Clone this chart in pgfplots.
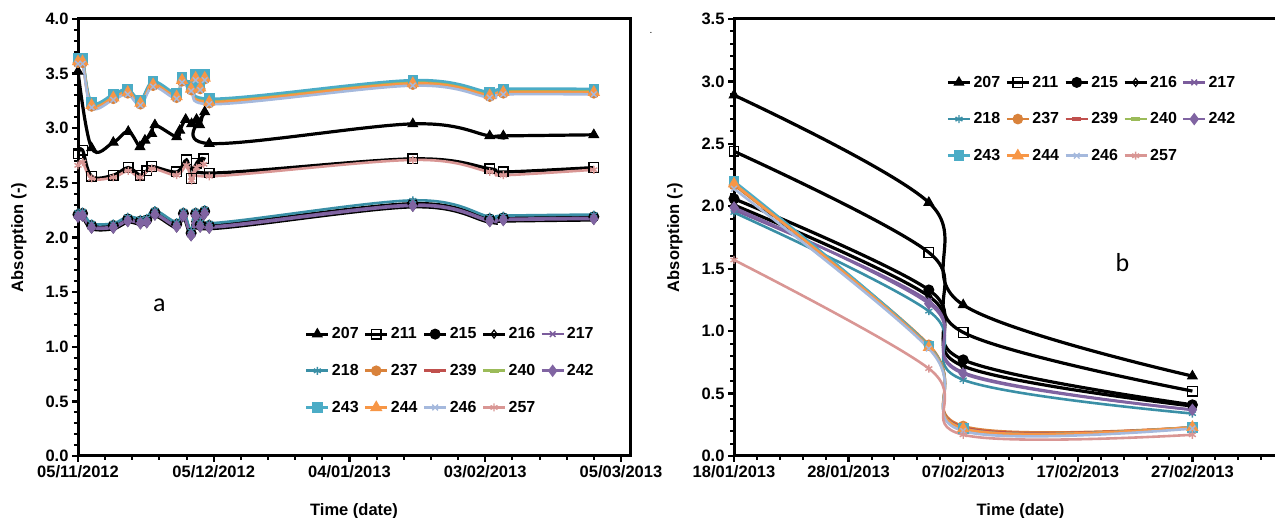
\documentclass[border=0pt]{standalone}
\usepackage{pgfplots}
\pgfplotsset{compat=1.18}
\usepackage{fontspec}
\setmainfont{Liberation Sans}
\newfontfamily\carlito{Carlito}
\definecolor{c217}{HTML}{7B5C9C}
\definecolor{c218}{HTML}{3A8FA6}
\definecolor{c237}{HTML}{D9823B}
\definecolor{c239}{HTML}{C0504D}
\definecolor{c240}{HTML}{9BBB59}
\definecolor{c242}{HTML}{8064A2}
\definecolor{c243}{HTML}{4BACC6}
\definecolor{c244}{HTML}{F79646}
\definecolor{c246}{HTML}{A5B9DD}
\definecolor{c257}{HTML}{D99694}
\pgfplotsset{
  myaxis/.style={
    scale only axis, height=437pt, ymin=0,
    tick align=outside, xtick pos=bottom, ytick pos=left,
    axis line style={line width=3pt},
    major tick length=6pt, minor tick length=4pt,
    every major tick/.append style={line width=2.4pt,black},
    every minor tick/.append style={line width=2pt,black},
    tick label style={font=\fontsize{16.5}{19}\selectfont\bfseries},
    label style={font=\fontsize{16.5}{19}\selectfont\bfseries},
    xlabel style={yshift=-19pt},
    ylabel style={yshift=12pt},
    /pgf/number format/assume math mode=true,
    yticklabel style={/pgf/number format/.cd, fixed, fixed zerofill, precision=1},
    minor y tick num=4,
    legend columns=5,
    legend cell align=left,
    legend style={draw=none, fill=none, font=\fontsize{16}{19}\selectfont\bfseries,
      /tikz/every even column/.append style={column sep=3pt}, /tikz/row sep=20pt},
    legend image code/.code={\draw[mark repeat=2,mark phase=2] plot coordinates {(0pt,0pt)(11pt,0pt)(22pt,0pt)};},
    every axis plot/.append style={smooth, tension=0.6},
  },
  s207/.style={black, line width=3.2pt, mark=triangle*, mark size=5.5pt, mark options={solid,line width=1pt}},
  s211/.style={black, line width=3.2pt, mark=square, mark size=4.8pt, mark options={solid,fill=white,line width=1.3pt}},
  s215/.style={black, line width=3.2pt, mark=*, mark size=5pt, mark options={solid,line width=1pt}},
  s216/.style={black, line width=3.2pt, mark=diamond, mark size=4pt, mark options={solid,fill=white,line width=1.2pt}},
  s217/.style={c217, line width=2.6pt, mark=x, mark size=4pt, mark options={solid,line width=1.4pt}},
  s218/.style={c218, line width=2.6pt, mark=asterisk, mark size=4pt, mark options={solid,line width=1.4pt}},
  s237/.style={c237, line width=2.6pt, mark=*, mark size=4pt, mark options={solid}},
  s239/.style={c239, line width=2.6pt, mark=-, mark size=4.5pt, mark options={solid,line width=3.6pt}},
  s240/.style={c240, line width=2.6pt, mark=-, mark size=4.5pt, mark options={solid,line width=3.6pt}},
  s242/.style={c242, line width=2.6pt, mark=diamond*, mark size=4.2pt, mark options={solid}},
  s243/.style={c243, line width=2.6pt, mark=square*, mark size=4pt, mark options={solid}},
  s244/.style={c244, line width=2.6pt, mark=triangle*, mark size=4.6pt, mark options={solid}},
  s246/.style={c246, line width=2.6pt, mark=x, mark size=4pt, mark options={solid,line width=1.4pt}},
  s257/.style={c257, line width=2.6pt, mark=asterisk, mark size=4pt, mark options={solid,line width=1.4pt}},
}
\begin{document}
\begin{tikzpicture}
\useasboundingbox (0,0) rectangle (1275pt,518pt);
% ---------------- panel a ----------------
\begin{axis}[myaxis, at={(78pt,62pt)}, anchor=south west, width=552pt,
  xmin=0, xmax=122, ymax=4, ytick={0,0.5,1,1.5,2,2.5,3,3.5,4},
  xtick={0,30,60,90,120},
  xticklabels={05/11/2012,05/12/2012,04/01/2013,03/02/2013,05/03/2013},
  minor x tick num=4,
  xlabel={Time (date)}, ylabel={Absorption (-)},
  legend style={at={(axis description cs:0.405,0.303)}, anchor=north west}]
\addplot[s207] coordinates {(0,3.52)(3,2.82)(7.8,2.87)(11.1,2.97)(13.7,2.83)(14.8,2.89)(16.3,2.95)(17,3.03)(21.8,2.92)(22.5,2.98)(23.8,3.08)(25.1,3.04)(26.2,3.08)(26.9,3.03)(28,3.15)(29,2.86)(74,3.04)(91,2.93)(94,2.93)(114,2.94)};
\addplot[s211] coordinates {(0,2.77)(1,2.80)(3,2.56)(7.8,2.57)(11.1,2.64)(13.7,2.57)(15.2,2.61)(16.3,2.65)(21.8,2.60)(24,2.71)(25.1,2.54)(26.2,2.68)(27.8,2.72)(29,2.59)(74,2.72)(91,2.63)(94,2.60)(114,2.64)};
\addplot[s215] coordinates {(0,2.21)(1,2.22)(3,2.11)(7.8,2.11)(11,2.17)(13.8,2.15)(15.2,2.16)(17,2.23)(21.8,2.12)(23.3,2.22)(25,2.04)(26,2.22)(27,2.12)(28,2.24)(29,2.11)(74,2.31)(91,2.17)(94,2.18)(114,2.19)};
\addplot[s216] coordinates {(0,2.18)(1,2.19)(3,2.08)(7.8,2.08)(11,2.14)(13.8,2.12)(15.2,2.13)(17,2.20)(21.8,2.09)(23.3,2.19)(25,2.01)(26,2.19)(27,2.09)(28,2.21)(29,2.08)(74,2.28)(91,2.14)(94,2.15)(114,2.16)};
\addplot[s217] coordinates {(0,2.20)(1,2.21)(3,2.10)(7.8,2.10)(11,2.16)(13.8,2.14)(15.2,2.15)(17,2.22)(21.8,2.11)(23.3,2.21)(25,2.03)(26,2.21)(27,2.11)(28,2.23)(29,2.10)(74,2.30)(91,2.16)(94,2.17)(114,2.18)};
\addplot[s218] coordinates {(0,2.23)(1,2.24)(3,2.13)(7.8,2.13)(11,2.19)(13.8,2.17)(15.2,2.18)(17,2.25)(21.8,2.14)(23.3,2.24)(25,2.06)(26,2.24)(27,2.14)(28,2.26)(29,2.13)(74,2.34)(91,2.19)(94,2.20)(114,2.21)};
\addplot[s237] coordinates {(0,3.60)(1,3.60)(3,3.20)(7.8,3.27)(11,3.32)(13.8,3.22)(16.6,3.39)(21.8,3.28)(23,3.43)(25,3.35)(26,3.45)(27,3.36)(28,3.45)(29,3.23)(74,3.40)(91,3.29)(94,3.32)(114,3.32)};
\addplot[s239] coordinates {(0,3.62)(1,3.62)(3,3.22)(7.8,3.29)(11,3.34)(13.8,3.24)(16.6,3.41)(21.8,3.30)(23,3.45)(25,3.37)(26,3.47)(27,3.38)(28,3.47)(29,3.25)(74,3.42)(91,3.31)(94,3.34)(114,3.34)};
\addplot[s240] coordinates {(0,3.63)(1,3.63)(3,3.23)(7.8,3.30)(11,3.35)(13.8,3.25)(16.6,3.42)(21.8,3.31)(23,3.46)(25,3.38)(26,3.48)(27,3.39)(28,3.48)(29,3.26)(74,3.43)(91,3.32)(94,3.35)(114,3.35)};
\addplot[s242] coordinates {(0,2.19)(1,2.20)(3,2.09)(7.8,2.09)(11,2.15)(13.8,2.13)(15.2,2.14)(17,2.21)(21.8,2.10)(23.3,2.20)(25,2.02)(26,2.20)(27,2.10)(28,2.22)(29,2.09)(74,2.29)(91,2.15)(94,2.16)(114,2.17)};
\addplot[s243] coordinates {(0,3.64)(1,3.64)(3,3.24)(7.8,3.31)(11,3.36)(13.8,3.26)(16.6,3.43)(21.8,3.32)(23,3.47)(25,3.39)(26,3.49)(27,3.40)(28,3.49)(29,3.27)(74,3.44)(91,3.33)(94,3.36)(114,3.36)};
\addplot[s244] coordinates {(0,3.61)(1,3.61)(3,3.21)(7.8,3.28)(11,3.33)(13.8,3.23)(16.6,3.40)(21.8,3.29)(23,3.44)(25,3.36)(26,3.46)(27,3.37)(28,3.46)(29,3.24)(74,3.41)(91,3.30)(94,3.33)(114,3.33)};
\addplot[s246] coordinates {(0,3.59)(1,3.59)(3,3.19)(7.8,3.26)(11,3.31)(13.8,3.21)(16.6,3.38)(21.8,3.27)(23,3.42)(25,3.34)(26,3.44)(27,3.35)(28,3.44)(29,3.22)(74,3.39)(91,3.28)(94,3.31)(114,3.31)};
\addplot[s257] coordinates {(0,2.66)(1,2.69)(3,2.54)(7.8,2.55)(11.1,2.61)(13.7,2.55)(16.3,2.63)(21.8,2.57)(24,2.66)(25.1,2.52)(26.2,2.64)(27.8,2.67)(29,2.56)(74,2.71)(91,2.60)(94,2.57)(114,2.62)};
\legend{207,211,215,216,217,218,237,239,240,242,243,244,246,257}
\node at (axis cs:18,1.38) {\carlito\fontsize{26}{30}\selectfont a};
\end{axis}
% ---------------- panel b ----------------
\begin{axis}[myaxis, at={(734pt,62pt)}, anchor=south west, width=573pt,
  xmin=0, xmax=50, ymax=3.5, ytick={0,0.5,1,1.5,2,2.5,3,3.5},
  xtick={0,10,20,30,40},
  xticklabels={18/01/2013,28/01/2013,07/02/2013,17/02/2013,27/02/2013},
  minor xtick={2,4,6,8,12,14,16,18,22,24,26,28,32,34,36,38,42,44,46,48,50},
  xlabel={Time (date)}, ylabel={Absorption (-)},
  legend style={at={(axis description cs:0.365,0.879)}, anchor=north west}]
\addplot[s207] coordinates {(0,2.89)(17,2.03)(20,1.21)(40,0.64)};
\addplot[s211] coordinates {(0,2.44)(17,1.63)(20,0.99)(40,0.52)};
\addplot[s215] coordinates {(0,2.06)(17,1.33)(20,0.77)(40,0.41)};
\addplot[s216] coordinates {(0,2.01)(17,1.28)(20,0.72)(40,0.40)};
\addplot[s217] coordinates {(0,1.97)(17,1.24)(20,0.67)(40,0.37)};
\addplot[s218] coordinates {(0,1.95)(17,1.16)(20,0.61)(40,0.34)};
\addplot[s237] coordinates {(0,2.17)(17,0.89)(20,0.24)(40,0.23)};
\addplot[s239] coordinates {(0,2.18)(17,0.88)(20,0.23)(40,0.23)};
\addplot[s240] coordinates {(0,2.18)(17,0.88)(20,0.22)(40,0.23)};
\addplot[s242] coordinates {(0,1.99)(17,1.22)(20,0.66)(40,0.37)};
\addplot[s243] coordinates {(0,2.20)(17,0.88)(20,0.22)(40,0.23)};
\addplot[s244] coordinates {(0,2.18)(17,0.87)(20,0.22)(40,0.23)};
\addplot[s246] coordinates {(0,2.14)(17,0.86)(20,0.20)(40,0.22)};
\addplot[s257] coordinates {(0,1.57)(17,0.70)(20,0.17)(40,0.17)};
\legend{207,211,215,216,217,218,237,239,240,242,243,244,246,257}
\node at (axis cs:33.9,1.55) {\carlito\fontsize{26}{30}\selectfont b};
\end{axis}
\node at (651pt,485pt) {.};
\end{tikzpicture}
\end{document}
